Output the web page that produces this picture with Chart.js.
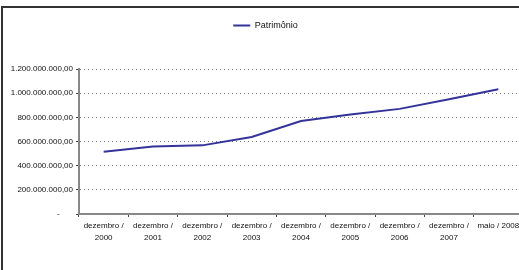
<!DOCTYPE html>
<html>
<head>
<meta charset="utf-8">
<script src="https://cdn.jsdelivr.net/npm/chart.js@4/dist/chart.umd.min.js"></script>
<style>
  html, body { margin: 0; padding: 0; background: #fff; overflow: hidden; }
  body { width: 519px; height: 270px; position: relative; }
  #frame {
    position: absolute; left: 1px; top: 6px; width: 600px; height: 400px;
    border-left: 2px solid #333; border-top: 2px solid #333;
  }
  #wrap { position: absolute; left: 0; top: 0; width: 531px; height: 270px; }
</style>
</head>
<body>
<div id="frame"></div>
<div id="wrap"><canvas id="c" width="531" height="270"></canvas></div>
<script>
// dados
var meses = ['dezembro', 'dezembro', 'dezembro', 'dezembro', 'dezembro', 'dezembro', 'dezembro', 'dezembro', 'maio'];
var anos = ['2000', '2001', '2002', '2003', '2004', '2005', '2006', '2007', '2008'];
var patrimonio = [516e6, 558e6, 568e6, 638e6, 770e6, 823e6, 870e6, 950e6, 1033e6];
var eixoY = { min: 0, max: 1200e6, passo: 200e6 };

var rotulos = meses.map(function (m, i) {
    return m === 'maio' ? m + ' / ' + anos[i] : [m + ' /', anos[i]];
});

function formata(v) {
    if (v === 0) return '-      ';
    var s = Math.round(v).toString().replace(/\B(?=(\d{3})+(?!\d))/g, '.');
    return s + ',00';
}

// espaço extra entre a legenda e a área do gráfico
var folgaLegenda = {
    id: 'folgaLegenda',
    beforeInit: function (chart) {
        var fit = chart.legend.fit;
        chart.legend.fit = function () {
            fit.call(chart.legend);
            this.height += 29;
        };
    }
};

var fonte = { family: 'Liberation Sans, Arial, sans-serif', size: 8 };

new Chart(document.getElementById('c').getContext('2d'), {
    type: 'line',
    data: {
        labels: rotulos,
        datasets: [{
            label: 'Patrimônio',
            data: patrimonio,
            borderColor: '#333399',
            backgroundColor: '#333399',
            borderWidth: 2,
            pointRadius: 0,
            pointStyle: 'line',
            tension: 0,
            fill: false
        }]
    },
    options: {
        responsive: false,
        animation: false,
        layout: { padding: { left: 8, right: 8, top: 0, bottom: 0 } },
        plugins: {
            legend: {
                position: 'top',
                labels: {
                    usePointStyle: true,
                    pointStyle: 'line',
                    pointStyleWidth: 17,
                    padding: 21,
                    color: '#111',
                    font: { family: 'Liberation Sans, Arial, sans-serif', size: 9 }
                }
            },
            tooltip: { enabled: false }
        },
        scales: {
            x: {
                offset: true,
                afterFit: function (s) { s.height = 56; },
                grid: {
                    offset: true,
                    drawOnChartArea: false,
                    tickLength: 3,
                    color: '#444',
                    tickWidth: 1
                },
                border: { color: '#888', width: 2 },
                ticks: {
                    color: '#111',
                    font: Object.assign({ lineHeight: 1.45 }, fonte),
                    padding: 3,
                    maxRotation: 0,
                    autoSkip: false
                }
            },
            y: {
                min: eixoY.min,
                max: eixoY.max,
                afterFit: function (s) { s.width = 71; },
                grid: {
                    color: '#777',
                    tickBorderDash: [],
                    tickColor: '#444',
                    tickLength: 3
                },
                border: { color: '#888', width: 2, dash: [1, 3] },
                ticks: {
                    stepSize: eixoY.passo,
                    color: '#111',
                    font: fonte,
                    padding: 3,
                    callback: function (v) { return formata(v); }
                }
            }
        }
    },
    plugins: [folgaLegenda]
});
</script>
</body>
</html>
